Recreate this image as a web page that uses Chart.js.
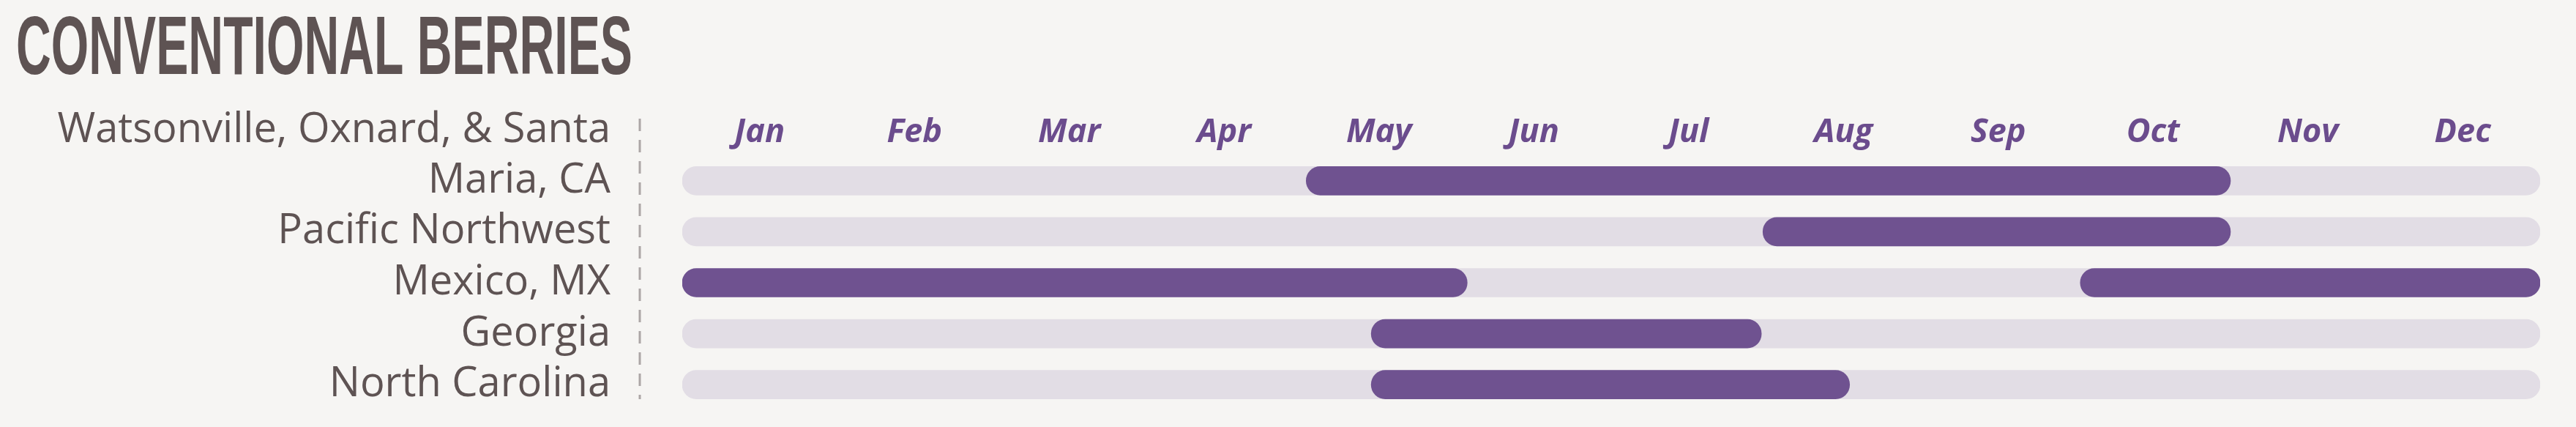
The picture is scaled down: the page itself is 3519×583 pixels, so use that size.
<!DOCTYPE html>
<html>
<head>
<meta charset="utf-8">
<script src="https://cdn.jsdelivr.net/npm/chart.js@4.4.1/dist/chart.umd.min.js"></script>
<style>
  html, body { margin: 0; padding: 0; background: #f6f5f3; }
  #wrap { width: 3519px; height: 583px; position: relative; }
</style>
</head>
<body>
<div id="wrap"><canvas id="c"></canvas></div>
<script>
const chartTitle = 'CONVENTIONAL BERRIES';
const months = ['Jan', 'Feb', 'Mar', 'Apr', 'May', 'Jun', 'Jul', 'Aug', 'Sep', 'Oct', 'Nov', 'Dec'];
const regions = [
  ['Watsonville, Oxnard, & Santa', 'Maria, CA', ''],
  'Pacific Northwest',
  'Mexico, MX',
  'Georgia',
  'North Carolina'
];
// month positions: 0 = start of Jan, 12 = end of Dec
const fullYear = [[0, 12], [0, 12], [0, 12], [0, 12], [0, 12]];
const seasonMain = [[4.03, 10], [6.98, 10], [0, 5.07], [4.45, 6.97], [4.45, 7.54]];
const seasonSecond = [null, null, [9.03, 12], null, null];

const BG = '#f6f5f3';
const PURPLE = '#6f5290';
const TRACK = '#e2dde5';
const TEXT = '#5e5353';

const bgPlugin = {
  id: 'bg',
  beforeDraw(chart) {
    const ctx = chart.ctx;
    ctx.save();
    ctx.fillStyle = BG;
    ctx.fillRect(0, 0, chart.width, chart.height);
    ctx.restore();
  }
};

const decorPlugin = {
  id: 'decor',
  afterDraw(chart) {
    const ctx = chart.ctx;
    const area = chart.chartArea;
    // title
    ctx.save();
    ctx.font = 'bold 114px "Liberation Sans Narrow", "Liberation Sans", sans-serif';
    ctx.fillStyle = TEXT;
    ctx.textBaseline = 'alphabetic';
    ctx.textAlign = 'left';
    const w = ctx.measureText(chartTitle).width;
    const sx = 842 / w;
    ctx.translate(22, 101);
    ctx.scale(sx, 1);
    ctx.fillText(chartTitle, 0, 0);
    ctx.restore();
    // dashed separator
    ctx.save();
    ctx.strokeStyle = '#aca6a6';
    ctx.lineWidth = 3;
    ctx.setLineDash([17, 12]);
    const x = area.left - 58;
    ctx.beginPath();
    ctx.moveTo(x, area.top - 50);
    ctx.lineTo(x, area.bottom - 15);
    ctx.stroke();
    ctx.restore();
  }
};

new Chart(document.getElementById('c'), {
  type: 'bar',
  data: {
    labels: regions,
    datasets: [
      {
        label: 'Season',
        data: seasonMain,
        backgroundColor: PURPLE,
        order: 1
      },
      {
        label: 'Season (second)',
        data: seasonSecond,
        backgroundColor: PURPLE,
        order: 1
      },
      {
        label: 'Year',
        data: fullYear,
        backgroundColor: TRACK,
        order: 2
      }
    ]
  },
  options: {
    indexAxis: 'y',
    responsive: true,
    maintainAspectRatio: false,
    animation: false,
    devicePixelRatio: 1,
    grouped: false,
    barThickness: 39,
    borderRadius: 20,
    borderSkipped: false,
    layout: { padding: { top: 150, bottom: 23, left: 0, right: 49 } },
    plugins: {
      legend: { display: false },
      tooltip: { enabled: false },
      title: { display: false }
    },
    scales: {
      x: {
        type: 'linear',
        min: 0,
        max: 12,
        display: false
      },
      x2: {
        type: 'category',
        axis: 'x',
        labels: months,
        position: 'top',
        offset: true,
        grid: { display: false, drawTicks: false },
        border: { display: false },
        ticks: {
          color: '#6b4c8d',
          padding: 4,
          autoSkip: false,
          maxRotation: 0,
          font: { family: '"Open Sans", Lato, sans-serif', size: 45, weight: 'bold', style: 'italic', lineHeight: 1.2 }
        }
      },
      y: {
        type: 'category',
        grid: { display: false, drawTicks: false },
        border: { display: false },
        ticks: {
          color: TEXT,
          padding: 98,
          autoSkip: false,
          font: { family: '"Open Sans", Lato, sans-serif', size: 56, lineHeight: '69px' }
        },
        afterFit(scale) {
          scale.width = 932;
          scale.paddingTop = 0;
          scale.paddingBottom = 0;
        }
      }
    }
  },
  plugins: [bgPlugin, decorPlugin]
});
</script>
</body>
</html>
